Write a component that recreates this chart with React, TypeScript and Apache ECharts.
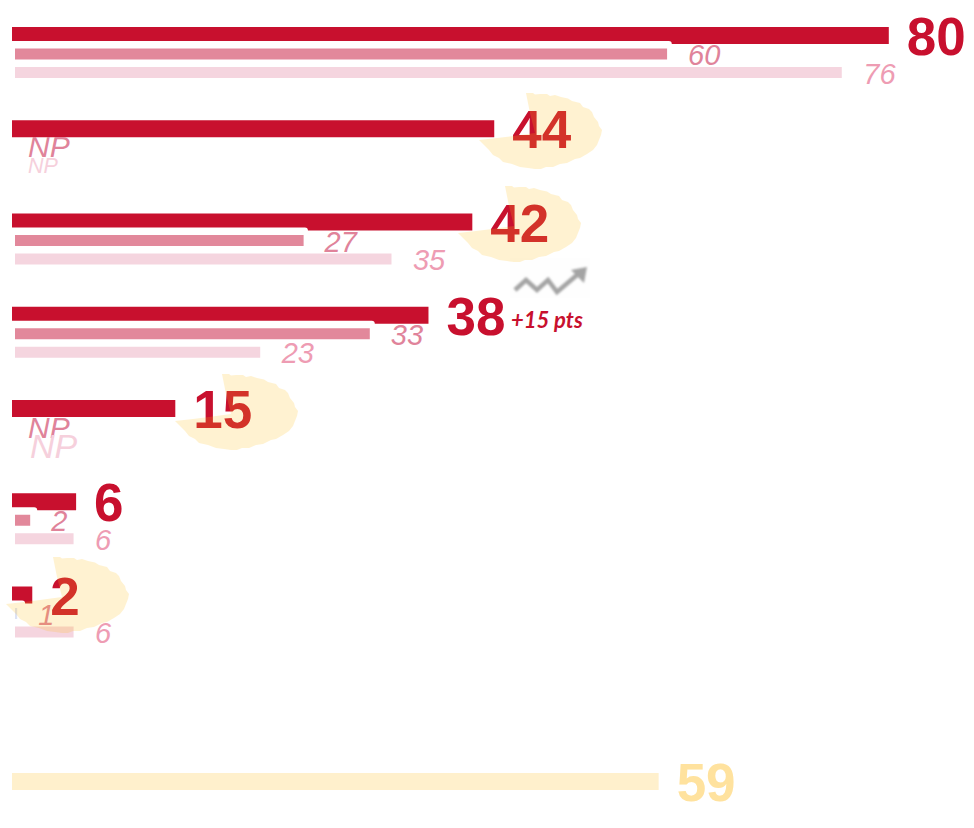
import React, { useEffect, useRef } from "react";
import * as echarts from "echarts";

const rows = ["r1", "r2", "r3", "r4", "r5", "r6", "r7", "gap", "total"];
const mainValues = [80, 44, 42, 38, 14.9, 5.85, 1.85, null, null];
const mainLabels = ["80", "44", "42", "38", "15", "6", "2", "", ""];
const secondValues = [60.1, 0, 26.6, 32.7, 0, 1.4, 0.2, null, null];
const secondLabels = ["60", "NP", "27", "33", "NP", "2", "1", "", ""];
const thirdValues = [76.2, 0, 34.7, 22.6, 0, 5.4, 5.4, null, null];
const thirdLabels = ["76", "NP", "35", "23", "NP", "6", "6", "", ""];
const totalValues = [null, null, null, null, null, null, null, null, 59];
const totalLabels = ["", "", "", "", "", "", "", "", "59"];
const maskEnds = [60.2, 0, 27, 33.1, 0, 2.3, 1.2, null, null];
const deltaText = "+15 pts";

const FONT = "'Liberation Sans', Arial, sans-serif";
const ROW = 93.25;
const RED = "#C8102E";
const MID = "#E2889B";
const MID_TEXT = "#E0839A";
const LIGHT = "#F5D5DF";
const LIGHT_TEXT = "#EE9CB3";
const NP_LIGHT_TEXT = "#F6D0DC";

const blobOutline = [
  [47, 1], [54, 1], [56, 2.5], [61, 2], [68, 2], [71, 4], [76, 3], [82, 5], [89, 6.5], [93, 9],
  [101, 11], [104, 15], [110, 17], [113, 20], [115, 25], [119, 30], [120, 34], [123, 38],
  [122, 43], [120, 48], [118, 53], [114, 58], [108, 62], [101, 66], [96, 67], [88, 71],
  [81, 72], [74, 75], [67, 75], [62, 77], [56, 77], [49, 76], [41, 75], [33, 72], [24, 70],
  [20, 66], [14, 63], [10, 58], [8, 56], [4, 52], [0, 48], [18, 46], [34, 44], [56, 41], [51, 21],
];
const blobOrigins = [[479, 92], [458, 185], [175, 373], [6, 556]];

const arrowSvg =
  "data:image/svg+xml;utf8," +
  encodeURIComponent(
    `<svg xmlns="http://www.w3.org/2000/svg" width="80" height="40" viewBox="0 0 80 40">
      <defs><filter id="b" x="-10%" y="-20%" width="120%" height="140%"><feGaussianBlur stdDeviation="1.1"/></filter></defs>
      <rect width="80" height="40" fill="#FEFEFE"/>
      <g filter="url(#b)">
        <polyline points="5,32 16,22 27,32 38,22 47,34 67,17" fill="none" stroke="#A4A4A4" stroke-width="4.5"/>
        <polygon points="77,9 61,12 74,25" fill="#A4A4A4"/>
      </g>
    </svg>`
  );

const hiddenX = (gridIndex: number, max: number) => ({
  type: "value" as const, gridIndex, min: 0, max, show: false,
});
const hiddenY = (gridIndex: number) => ({
  type: "category" as const, gridIndex, data: rows, inverse: true, show: false,
});

function npStyle(fontSize: number, distance: number, color: string, dy: number) {
  return { label: { fontSize, distance, color, offset: [0, dy] } };
}
const secondNp: Record<number, any> = {
  1: npStyle(30, 13, MID_TEXT, -1),
  4: npStyle(30, 13, MID_TEXT, 0),
};
const thirdNp: Record<number, any> = {
  1: npStyle(21.5, 13, NP_LIGHT_TEXT, 0),
  4: npStyle(34, 15, NP_LIGHT_TEXT, 0),
};

function items(values: (number | null)[], extras: Record<number, any>) {
  return values.map((value, i) => ({ value, ...(extras[i] || {}) }));
}

export default function App() {
  const ref = useRef<HTMLDivElement>(null);
  useEffect(() => {
    document.body.style.margin = "0";
    const chart = echarts.init(ref.current!, undefined, { renderer: "svg" });
    const secondExtras: Record<number, any> = {
      ...secondNp,
      6: { itemStyle: { color: "#DCE2F4" } },
    };
    chart.setOption({
      animation: false,
      backgroundColor: "#ffffff",
      grid: [
        { left: 12, top: 35.5 - ROW / 2, width: 931.6, height: ROW * 9, outerBoundsMode: "none" },
        { left: 15, top: 54 - ROW / 2, width: 922.25, height: ROW * 9, outerBoundsMode: "none" },
        { left: 15, top: 72.5 - ROW / 2, width: 922.25, height: ROW * 9, outerBoundsMode: "none" },
        { left: 12, top: 44 - ROW / 2, width: 931.6, height: ROW * 9, outerBoundsMode: "none" },
      ],
      xAxis: [hiddenX(0, 85), hiddenX(1, 85), hiddenX(2, 85), hiddenX(3, 85)],
      yAxis: [hiddenY(0), hiddenY(1), hiddenY(2), hiddenY(3)],
      series: [
        {
          type: "bar", name: "Main", xAxisIndex: 0, yAxisIndex: 0, z: 2, barWidth: 17, barGap: "-100%",
          data: mainValues, itemStyle: { color: RED },
          label: {
            show: true, position: "right", distance: 18, offset: [0, 1], color: RED, fontFamily: FONT,
            fontWeight: "bold", fontSize: 53,
            formatter: (p: any) => mainLabels[p.dataIndex],
          },
        },
        {
          type: "bar", name: "Total", xAxisIndex: 0, yAxisIndex: 0, z: 2, barWidth: 17, barGap: "-100%",
          data: totalValues, itemStyle: { color: "#FFF0CC" },
          label: {
            show: true, position: "right", distance: 18, offset: [0, 1], color: "#FFE29E", fontFamily: FONT,
            fontWeight: "bold", fontSize: 53,
            formatter: (p: any) => totalLabels[p.dataIndex],
          },
        },
        {
          type: "bar", name: "Mask", xAxisIndex: 3, yAxisIndex: 3, z: 3, barWidth: 6,
          data: maskEnds, itemStyle: { color: "#ffffff", borderRadius: [0, 3, 3, 0] }, silent: true,
        },
        {
          type: "bar", name: "Second", xAxisIndex: 1, yAxisIndex: 1, z: 4, barWidth: 11,
          data: items(secondValues, secondExtras), itemStyle: { color: MID },
          label: {
            show: true, position: "right", distance: 21, offset: [0, 1], color: MID_TEXT, fontFamily: FONT,
            fontStyle: "italic", fontSize: 29,
            formatter: (p: any) => secondLabels[p.dataIndex],
          },
        },
        {
          type: "bar", name: "Third", xAxisIndex: 2, yAxisIndex: 2, z: 4, barWidth: 11,
          data: items(thirdValues, thirdNp), itemStyle: { color: LIGHT },
          label: {
            show: true, position: "right", distance: 21.5, offset: [0, 1], color: LIGHT_TEXT, fontFamily: FONT,
            fontStyle: "italic", fontSize: 29,
            formatter: (p: any) => thirdLabels[p.dataIndex],
          },
        },
      ],
      graphic: [
        ...blobOrigins.map(([x, y]) => ({
          type: "polygon", x, y, z: 100, silent: true,
          shape: { points: blobOutline },
          style: { fill: "#FFBE1A", opacity: 0.2 },
        })),
        {
          type: "image", x: 510, y: 258, z: 50, silent: true,
          style: { image: arrowSvg, width: 80, height: 40 },
        },
        {
          type: "text", x: 511, y: 308, z: 50, silent: true,
          style: {
            text: deltaText, fill: RED, fontFamily: "Lato, 'Open Sans', sans-serif",
            fontWeight: "bold", fontStyle: "italic", fontSize: 22,
          },
        },
      ],
    });
    return () => chart.dispose();
  }, []);
  return <div ref={ref} style={{ width: 974, height: 828 }} />;
}
